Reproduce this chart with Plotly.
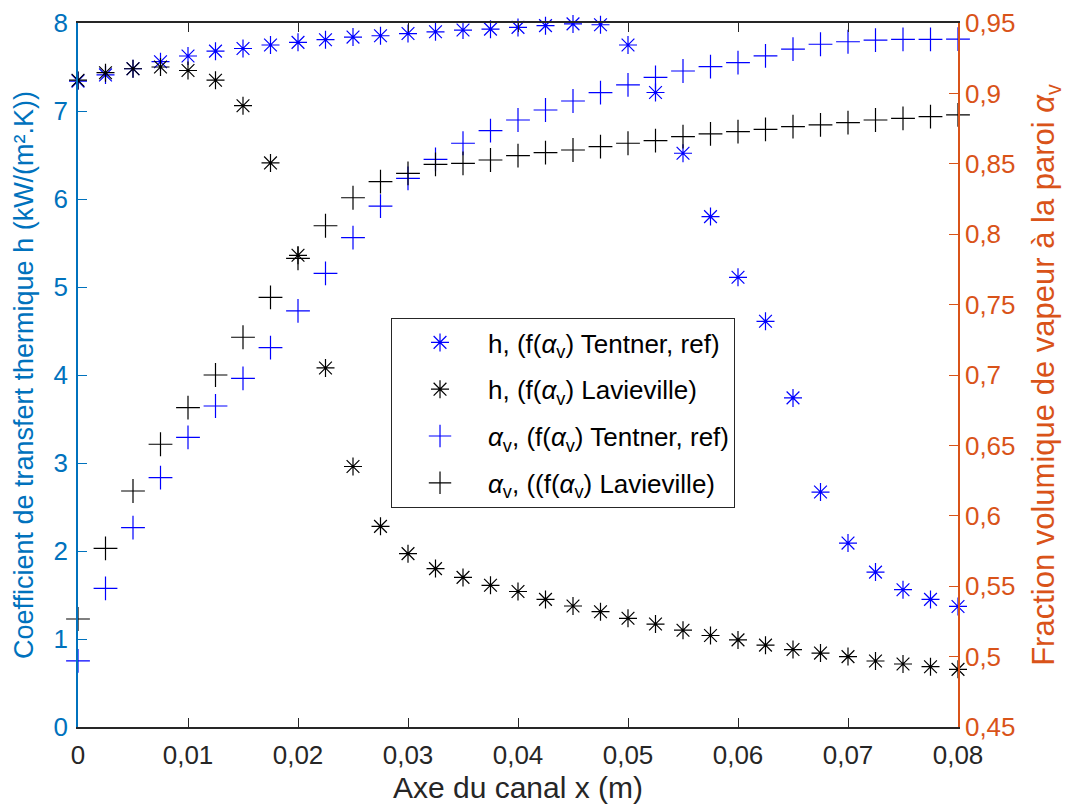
import plotly.graph_objects as go

x_pos = [0.0, 0.0025, 0.005, 0.0075, 0.01, 0.0125, 0.015, 0.0175, 0.02, 0.0225,
         0.025, 0.0275, 0.03, 0.0325, 0.035, 0.0375, 0.04, 0.0425, 0.045, 0.0475,
         0.05, 0.0525, 0.055, 0.0575, 0.06, 0.0625, 0.065, 0.0675, 0.07, 0.0725,
         0.075, 0.0775, 0.08]

h_tentner = [7.34, 7.41, 7.48, 7.56, 7.625, 7.68, 7.71, 7.75, 7.78, 7.81,
             7.84, 7.855, 7.88, 7.90, 7.92, 7.93, 7.95, 7.97, 7.99, 7.98,
             7.75, 7.21, 6.52, 5.80, 5.11, 4.61, 3.74, 2.67, 2.09, 1.76,
             1.56, 1.45, 1.37]

h_lavieville = [7.35, 7.435, 7.48, 7.50, 7.46, 7.35, 7.06, 6.41, 5.36, 4.08,
                2.96, 2.28, 1.97, 1.80, 1.70, 1.61, 1.54, 1.45, 1.375, 1.31,
                1.235, 1.17, 1.10, 1.04, 0.99, 0.93, 0.88, 0.84, 0.80, 0.75,
                0.716, 0.685, 0.655]

alpha_tentner = [0.497, 0.5485, 0.5916, 0.6271, 0.6557, 0.678, 0.6976, 0.7194, 0.7455, 0.7722,
                 0.7975, 0.820, 0.8397, 0.8532, 0.8646, 0.8735, 0.8811, 0.8882, 0.8946, 0.9005,
                 0.906, 0.9114, 0.9159, 0.919, 0.9218, 0.9266, 0.9315, 0.9349, 0.9367, 0.9379,
                 0.9384, 0.9384, 0.9386]

alpha_lavieville = [0.5267, 0.5769, 0.6176, 0.6508, 0.6768, 0.700, 0.7268, 0.7552, 0.7829, 0.806,
                    0.8259, 0.8373, 0.8432, 0.8496, 0.8503, 0.8527, 0.8558, 0.8579, 0.8598, 0.8622,
                    0.8646, 0.8664, 0.8693, 0.8712, 0.8728, 0.8745, 0.8764, 0.8776, 0.8792, 0.8811,
                    0.8823, 0.8835, 0.8847]

x_ticks = [0, 0.01, 0.02, 0.03, 0.04, 0.05, 0.06, 0.07, 0.08]
x_ticktext = ["0", "0,01", "0,02", "0,03", "0,04", "0,05", "0,06", "0,07", "0,08"]
y1_ticks = [0, 1, 2, 3, 4, 5, 6, 7, 8]
y2_ticks = [0.45, 0.5, 0.55, 0.6, 0.65, 0.7, 0.75, 0.8, 0.85, 0.9, 0.95]
y2_ticktext = ["0,45", "0,5", "0,55", "0,6", "0,65", "0,7", "0,75", "0,8", "0,85", "0,9", "0,95"]

names = ["h, (f(<i>α</i><sub>v</sub>) Tentner, ref)",
         "h, (f(<i>α</i><sub>v</sub>) Lavieville)",
         "<i>α</i><sub>v</sub>, (f(<i>α</i><sub>v</sub>) Tentner, ref)",
         "<i>α</i><sub>v</sub>, ((f(<i>α</i><sub>v</sub>) Lavieville)"]

BLUE_AX = "#0072BD"
ORANGE_AX = "#D95319"
DARK = "#262626"
FONT = "Liberation Sans, Arial, sans-serif"

fig = go.Figure()
fig.add_trace(go.Scatter(x=x_pos, y=h_tentner, mode="markers", name=names[0], cliponaxis=False,
                         legendgroup="g1",
                         marker=dict(symbol="asterisk-open", size=15, color="#0000FF",
                                     line=dict(color="#0000FF", width=1.2))))
fig.add_trace(go.Scatter(x=x_pos, y=h_lavieville, mode="markers", name=names[1], cliponaxis=False,
                         legendgroup="g2",
                         marker=dict(symbol="asterisk-open", size=15, color="#000000",
                                     line=dict(color="#000000", width=1.2))))
fig.add_trace(go.Scatter(x=x_pos, y=alpha_tentner, mode="markers", name=names[2], yaxis="y2",
                         cliponaxis=False, legendgroup="g3",
                         marker=dict(symbol="cross-thin-open", size=17, color="#0000FF",
                                     line=dict(color="#0000FF", width=1.2))))
fig.add_trace(go.Scatter(x=x_pos, y=alpha_lavieville, mode="markers", name=names[3], yaxis="y2",
                         cliponaxis=False, legendgroup="g4",
                         marker=dict(symbol="cross-thin-open", size=17, color="#000000",
                                     line=dict(color="#000000", width=1.2))))

fig.update_layout(
    width=1065, height=802,
    margin=dict(l=70, r=115, t=15, b=83, autoexpand=False),
    paper_bgcolor="white", plot_bgcolor="white",
    font=dict(family=FONT, size=26, color=DARK),
    showlegend=True,
    legend=dict(x=0.3557, y=0.581, xanchor="left", yanchor="top",
                bordercolor=DARK, borderwidth=1, bgcolor="white",
                font=dict(size=26, color="#000000"), tracegroupgap=10,
                traceorder="grouped", itemwidth=86),
    xaxis=dict(range=[0, 0.08], tickvals=x_ticks, ticktext=x_ticktext, automargin=True,
               showgrid=False, zeroline=False, showline=True, linecolor=DARK, linewidth=1.5,
               mirror="ticks", ticks="inside", ticklen=9, tickcolor=DARK, tickwidth=1,
               tickfont=dict(size=26, color=DARK), ticklabelstandoff=4,
               title=dict(text="Axe du canal x (m)", font=dict(size=30, color=DARK), standoff=8)),
    yaxis=dict(range=[0, 8], tickvals=y1_ticks, showgrid=False, zeroline=False, automargin=False,
               showline=True, linecolor=BLUE_AX, linewidth=1.5, ticks="inside", ticklen=9,
               tickcolor=BLUE_AX, tickfont=dict(size=26, color=BLUE_AX), ticklabelstandoff=3,
               title=dict(text="Coefficient de transfert thermique h (kW/(m².K))",
                          font=dict(size=27, color=BLUE_AX), standoff=12)),
    yaxis2=dict(range=[0.45, 0.95], tickvals=y2_ticks, ticktext=y2_ticktext, automargin=False,
                overlaying="y", side="right", showgrid=False, zeroline=False,
                showline=True, linecolor=ORANGE_AX, linewidth=1.5, ticks="inside", ticklen=9,
                tickcolor=ORANGE_AX, tickfont=dict(size=26, color=ORANGE_AX),
                title=dict(text="Fraction volumique de vapeur à la paroi <i>α</i><sub>v</sub>",
                           font=dict(size=31, color=ORANGE_AX), standoff=18)),
)

fig.write_html("out.html")
